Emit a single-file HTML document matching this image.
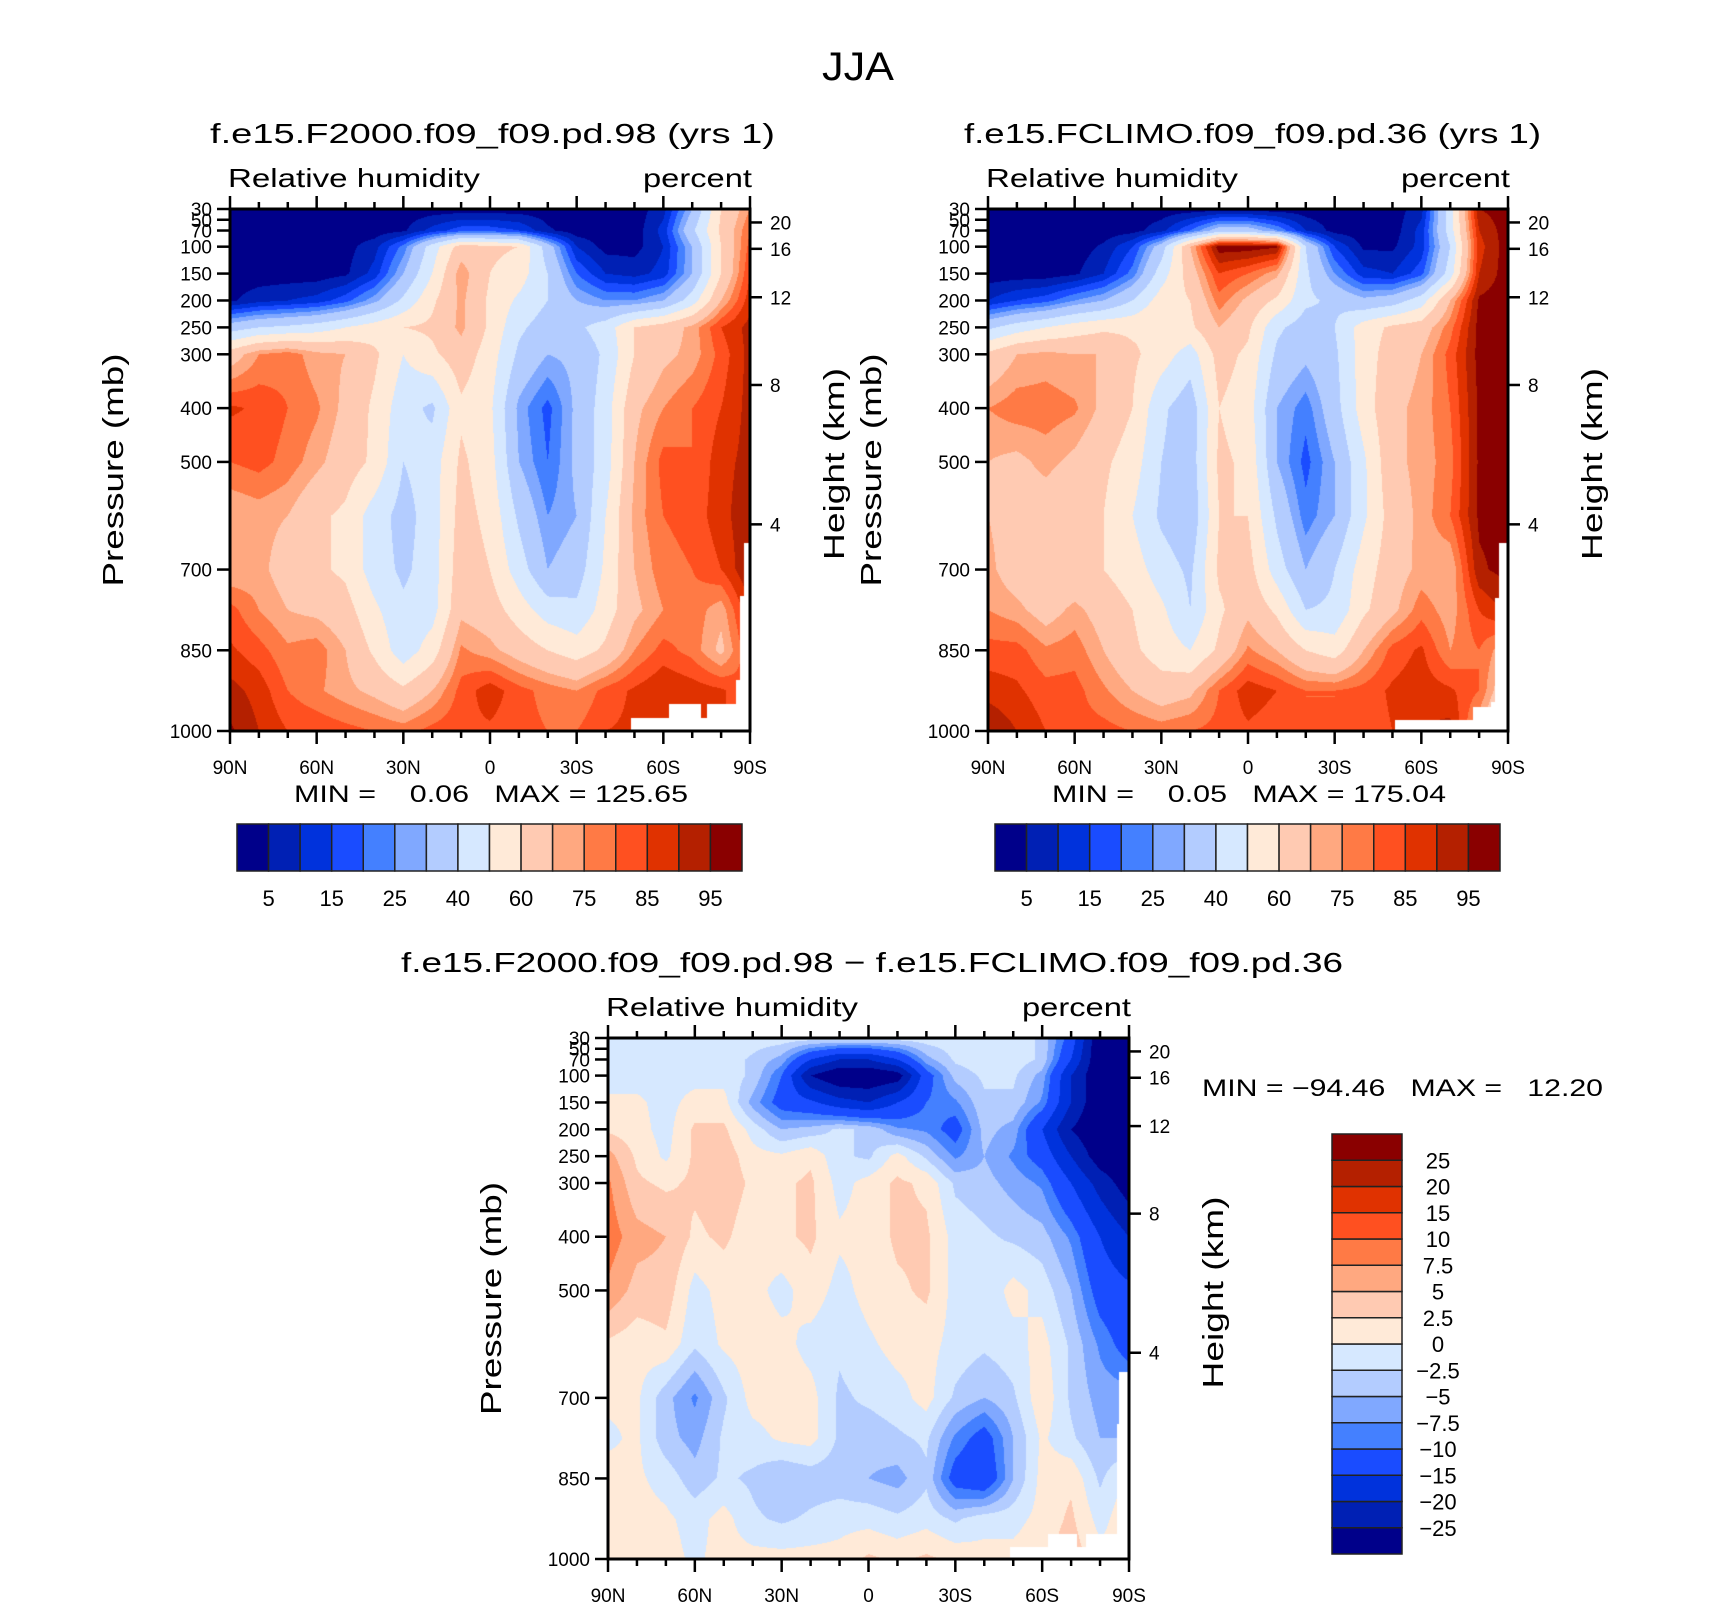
<!DOCTYPE html>
<html><head><meta charset="utf-8">
<style>
html,body{margin:0;padding:0;background:#fff;}
#root{position:relative;width:1710px;height:1606px;overflow:hidden;background:#fff;font-family:"Liberation Sans",sans-serif;}
canvas{position:absolute;}
svg{position:absolute;left:0;top:0;}
</style></head>
<body>
<div id="root">
<canvas id="c1" style="left:230px;top:209px" width="520" height="522"></canvas>
<canvas id="c2" style="left:988px;top:209px" width="520" height="522"></canvas>
<canvas id="c3" style="left:608px;top:1038px" width="521" height="521"></canvas>
<svg id="ov" width="1710" height="1606"></svg>
</div>
<script>
// ---- data ----
const lats = [90,80,70,60,50,40,30,20,10,0,-10,-20,-30,-40,-50,-60,-70,-80,-90];
const levs = [30,70,100,150,200,250,300,400,500,600,700,775,850,925,1000];
const rhBounds = [5,10,15,20,25,30,40,50,60,70,75,80,85,90,95];
const rhTickLabels = ["5","15","25","40","60","75","85","95"];
const diffBounds = [-25,-20,-15,-10,-7.5,-5,-2.5,0,2.5,5,7.5,10,15,20,25];
const diffTickLabels = ["−25","−20","−15","−10","−7.5","−5","−2.5","0","2.5","5","7.5","10","15","20","25"];
const palette = ["#00008a","#0020b4","#0032dc","#1a4cff","#4480ff","#80a8ff","#b3ccff","#d6e8ff","#ffead8","#ffcab2","#ffa880","#ff7a45","#ff5020","#e03200","#b42000","#8a0000"];

// Panel 1: f.e15.F2000 RH (rows = levs)
const rh1_p30  = [2,2,2,2,2,2,2,2,2,2,2,2,2,2,2,8,30,60,75];
const rh1_p70  = [2,2,2,2,2,2,4,12,18,18,15,6,2,2,2,12,38,62,80];
const rh1_p100 = [2,2,2,2,3,8,22,45,65,62,60,35,10,3,3,10,30,60,82];
const rh1_p150 = [2,2,2,2,4,12,30,50,74,60,55,40,20,10,8,12,30,60,85];
const rh1_p200 = [4,8,10,12,18,28,42,58,72,58,48,40,30,25,25,30,45,70,88];
const rh1_p250 = [35,40,42,45,50,55,60,62,72,58,42,35,38,45,60,65,72,85,92];
const rh1_p300 = [65,75,78,72,70,62,50,58,66,55,38,30,32,42,60,68,72,82,92];
const rh1_p400 = [86,84,80,76,68,58,44,38,58,52,28,18,32,45,68,75,80,85,92];
const rh1_p500 = [80,82,78,72,65,58,40,45,62,54,30,20,32,45,70,82,80,88,92];
const rh1_p600 = [70,72,70,62,58,45,36,45,64,57,38,25,30,50,72,80,82,88,94];
const rh1_p700 = [70,72,66,62,58,45,38,45,66,60,45,30,35,52,70,78,80,85,95];
const rh1_p775 = [82,75,70,68,64,52,42,46,68,65,55,45,42,55,68,75,78,72,90];
const rh1_p850 = [86,82,76,78,70,58,44,55,76,72,66,60,55,62,75,82,78,68,85];
const rh1_p925 = [92,88,80,76,72,68,62,70,82,88,82,78,75,82,86,90,88,86,80];
const rh1_p1000= [96,90,85,84,82,80,78,82,84,84,82,80,80,85,86,88,88,86,80];
const rh1 = [rh1_p30,rh1_p70,rh1_p100,rh1_p150,rh1_p200,rh1_p250,rh1_p300,rh1_p400,rh1_p500,rh1_p600,rh1_p700,rh1_p775,rh1_p850,rh1_p925,rh1_p1000];
const mask1Lat0 = [48.8,62,75,85,86.5,88];
const mask1Lat1 = [90,73,90,90,90,90];
const mask1P    = [975,950,950,905,750,650];

// Panel 2: f.e15.FCLIMO RH
const rh2_p30  = [2,2,2,2,2,2,2,2,2,2,2,2,2,2,2,8,45,95,98];
const rh2_p70  = [2,2,2,2,2,3,8,20,35,35,25,10,3,2,2,12,45,90,98];
const rh2_p100 = [2,2,2,2,6,15,35,70,98,98,96,40,15,4,4,12,40,88,98];
const rh2_p150 = [2,2,2,4,10,22,45,65,85,80,72,42,25,12,10,18,45,90,98];
const rh2_p200 = [10,15,18,25,30,40,55,60,78,68,58,42,38,32,35,45,70,96,98];
const rh2_p250 = [38,45,50,55,58,58,60,58,70,62,42,35,40,55,62,65,78,97,98];
const rh2_p300 = [62,70,72,70,70,62,55,45,64,58,38,32,38,55,65,70,82,97,98];
const rh2_p400 = [75,78,78,76,68,60,42,34,60,55,30,22,36,55,68,72,80,96,98];
const rh2_p500 = [70,68,72,68,62,55,40,34,62,58,30,18,30,48,68,72,78,96,97];
const rh2_p600 = [70,66,65,62,60,50,38,32,60,60,38,22,30,48,65,72,80,96,97];
const rh2_p700 = [72,65,62,62,60,55,45,38,62,64,45,30,40,55,66,72,70,94,97];
const rh2_p775 = [75,72,66,72,66,60,52,40,58,68,58,40,42,58,68,78,72,85,92];
const rh2_p850 = [82,82,76,78,70,62,55,50,62,76,70,60,55,70,82,86,75,80,70];
const rh2_p925 = [88,86,82,82,76,70,65,68,80,88,85,80,80,82,86,88,86,80,60];
const rh2_p1000= [95,90,85,82,82,80,78,80,82,84,82,80,80,82,85,90,92,70,50];
const rh2 = [rh2_p30,rh2_p70,rh2_p100,rh2_p150,rh2_p200,rh2_p250,rh2_p300,rh2_p400,rh2_p500,rh2_p600,rh2_p700,rh2_p775,rh2_p850,rh2_p925,rh2_p1000];
const mask2Lat0 = [51,78,84,85.6,87];
const mask2Lat1 = [90,90,90,90,90];
const mask2P    = [979,955,946,753,650];

// Panel 3: difference
const d_p30  = [-1,-1,-1,-1,-1,-1,-1,-1,-1,-1,-1,-1,-1,-1,-1,-3,-12,-30,-30];
const d_p70  = [-1,-1,-1,-1,-1,-3,-6,-15,-20,-20,-15,-6,-2,-1,-1,-3,-15,-30,-30];
const d_p100 = [-1,-1,-1,-1,-1,-3,-10,-25,-30,-30,-28,-12,-4,-2,-2,-6,-20,-30,-30];
const d_p150 = [0.5,0.5,-1,1,1,-6,-12,-14,-18,-20,-15,-10,-8,-3,-3,-8,-20,-30,-30];
const d_p200 = [2,1,-1,3,3,-1,-5,-4,-2,-3,-7,-8,-12,-4,-6,-15,-25,-30,-30];
const d_p250 = [6,2,-0.5,3,4,1,0.5,2,-2,-3,1,-3,-8,-5,-8,-12,-20,-28,-30];
const d_p300 = [8,3,2,3,4,2,2,3,-1,1,3,2,-3,-4,-6,-8,-15,-22,-28];
const d_p400 = [9,6,5,2,3,1,2,3,0.5,1,3,3,-1,-2,-3,-4,-8,-15,-20];
const d_p500 = [7,4,4,-1,1,1,-1,1.5,-1,1,2,3,-1,-2,1,-1,-5,-12,-14];
const d_p600 = [2,1,2,-2,0.5,1.5,1,-1,-2,-0.5,1,1,-1,-2,-1,1,-3,-8,-12];
const d_p700 = [0.5,0.5,-4,-8,-3,1,1.5,1,-3,-2,-1,1,-3,-5,-3,2,-3,-6,-6];
const d_p775 = [-0.5,0.5,-4,-6,-2,-1,0.5,1,-3,-4,-3,-2,-8,-12,-5,0.5,-2,-5,-5];
const d_p850 = [1,0.5,-1,-4,-2,-3,-5,-4,-4,-5,-6,-3,-12,-14,-5,1,2,-3,1];
const d_p925 = [1,1,0.5,-1,1,-2,-3,-2,-1,-1,-2,-1,-3,-1,-1,1,3,-1,2];
const d_p1000= [0.5,1,1,-0.5,1,1,1,1,1,3,2,3,2,1,1,2,4,1,1];
const dd = [d_p30,d_p70,d_p100,d_p150,d_p200,d_p250,d_p300,d_p400,d_p500,d_p600,d_p700,d_p775,d_p850,d_p925,d_p1000];
const mask3Lat0 = [49,62,75,85.7,86.5];
const mask3Lat1 = [90,72,90,90,90];
const mask3P    = [977,953,953,748,652];

// ---- rendering ----
function interp(grid, lat, p){
  let fx = (90-lat)/10; let i = Math.min(Math.floor(fx), lats.length-2); let tx = fx-i;
  let j = 0; while(j < levs.length-2 && p > levs[j+1]) j++;
  let ty = (p-levs[j])/(levs[j+1]-levs[j]); ty = Math.max(0,Math.min(1,ty));
  const a = grid[j][i], b = grid[j][i+1], c = grid[j+1][i], d = grid[j+1][i+1];
  return (a*(1-tx)+b*tx)*(1-ty) + (c*(1-tx)+d*tx)*ty;
}
function classOf(v, bounds){ let k=0; while(k<bounds.length && v>=bounds[k]) k++; return k; }
function hex(h){ return [parseInt(h.substr(1,2),16),parseInt(h.substr(3,2),16),parseInt(h.substr(5,2),16)]; }
const rgb = palette.map(hex);
function drawField(id, grid, bounds, m0, m1, mp){
  const cv = document.getElementById(id); const ctx = cv.getContext('2d');
  const w = cv.width, h = cv.height; const img = ctx.createImageData(w,h);
  for(let py=0; py<h; py++){
    const p = 30 + 970*(py+0.5)/h;
    for(let px=0; px<w; px++){
      const lat = 90 - 180*(px+0.5)/w; const sl = -lat;
      let masked = false;
      for(let k=0;k<m0.length;k++){ if(sl>=m0[k] && sl<=m1[k] && p>=mp[k]) masked = true; }
      const o = (py*w+px)*4;
      if(masked){ img.data[o]=255; img.data[o+1]=255; img.data[o+2]=255; img.data[o+3]=255; continue; }
      const c = rgb[classOf(interp(grid,lat,p),bounds)];
      img.data[o]=c[0]; img.data[o+1]=c[1]; img.data[o+2]=c[2]; img.data[o+3]=255;
    }
  }
  ctx.putImageData(img,0,0);
}
drawField('c1', rh1, rhBounds, mask1Lat0, mask1Lat1, mask1P);
drawField('c2', rh2, rhBounds, mask2Lat0, mask2Lat1, mask2P);
drawField('c3', dd, diffBounds, mask3Lat0, mask3Lat1, mask3P);

// ---- axes / text ----
const NS = "http://www.w3.org/2000/svg";
const svg = document.getElementById('ov');
function el(tag, attrs, parent){ const e = document.createElementNS(NS, tag); for(const k in attrs) e.setAttribute(k, attrs[k]); (parent||svg).appendChild(e); return e; }
function txt(s, x, y, size, anchor, name, len, rot){
  const t = el('text', {x:x, y:y, 'font-size':size, 'text-anchor':anchor||'start', 'font-family':'"Liberation Sans", sans-serif', fill:'#000'});
  t.setAttribute('style','white-space:pre');
  if(len){ t.setAttribute('textLength', len); t.setAttribute('lengthAdjust','spacingAndGlyphs'); }
  if(rot) t.setAttribute('transform', 'rotate(-90 '+x+' '+y+')');
  t.textContent = s;
  
  
  return t;
}
const pLabels = [30,50,70,100,150,200,250,300,400,500,700,850,1000];
const kmLabels = [20,16,12,8,4];
const kmPress = [55,104,194,357,616];
const xLabels = ["90N","60N","30N","0","30S","60S","90S"];

function panelAxes(x0,y0,w,h,pre,titleStr,titleX0,titleX1){
  const g = el('g', {});
  
  
  const yp = p => y0 + (p-30)/970*h;
  const xl = lat => x0 + (90-lat)/180*w;
  el('rect', {x:x0, y:y0, width:w, height:h, fill:'none', stroke:'#000', 'stroke-width':3}, g);
  for(let lat=90; lat>=-90; lat-=10){
    const major = (lat%30===0); const L = major?13:7; const x = xl(lat);
    el('line', {x1:x, x2:x, y1:y0, y2:y0-L, stroke:'#000', 'stroke-width':2.5}, g);
    el('line', {x1:x, x2:x, y1:y0+h, y2:y0+h+L, stroke:'#000', 'stroke-width':2.5}, g);
  }
  xLabels.forEach((s,i)=>{ txt(s, x0+i*w/6, y0+h+43, 19, 'middle', pre+'-x-tick-'+s); });
  pLabels.forEach(p=>{
    el('line', {x1:x0-13, x2:x0, y1:yp(p), y2:yp(p), stroke:'#000', 'stroke-width':2.5}, g);
    txt(String(p), x0-18, yp(p)+7, 19, 'end', pre+'-p-tick-'+p);
  });
  kmLabels.forEach((k,i)=>{
    const y = yp(kmPress[i]);
    el('line', {x1:x0+w, x2:x0+w+12, y1:y, y2:y, stroke:'#000', 'stroke-width':2.5}, g);
    txt(String(k), x0+w+20, y+7, 19, 'start', pre+'-km-tick-'+k);
  });
  txt("Pressure (mb)", x0-107, y0+h*0.5, 29, 'middle', pre+'-y-axis-title', 233, true);
  txt("Height (km)", x0+w+94, y0+h*0.5-6, 29, 'middle', pre+'-right-axis-title', 192, true);
  txt("Relative humidity", x0-2, y0-22, 26, 'start', pre+'-variable-label', 252);
  txt("percent", x0+w+2, y0-22, 26, 'end', pre+'-units-label', 109);
  txt(titleStr, (titleX0+titleX1)/2, y0-66, 28, 'middle', pre+'-title', titleX1-titleX0);
}
txt("JJA", 858, 80, 40, 'middle', 'figure-title', 72);
panelAxes(230,209,520,522,'p1',"f.e15.F2000.f09_f09.pd.98 (yrs 1)",210,775);
panelAxes(988,209,520,522,'p2',"f.e15.FCLIMO.f09_f09.pd.36 (yrs 1)",964,1541);
panelAxes(608,1038,521,521,'p3',"f.e15.F2000.f09_f09.pd.98 − f.e15.FCLIMO.f09_f09.pd.36",401,1343);
txt("MIN =    0.06   MAX = 125.65", 294, 802, 24, 'start', 'p1-min-max', 394);
txt("MIN =    0.05   MAX = 175.04", 1052, 802, 24, 'start', 'p2-min-max', 394);
txt("MIN = −94.46   MAX =   12.20", 1202, 1096, 24, 'start', 'p3-min-max', 401);

function hbar(x0,y0,w,h,pre){
  const n = palette.length, bw = w/n;
  palette.forEach((c,i)=>{
    const r = el('rect', {x:x0+i*bw, y:y0, width:bw, height:h, fill:c, stroke:'#222', 'stroke-width':1.5});
    
    
  });
  rhTickLabels.forEach((s,i)=>{ txt(s, x0+(2*i+1)*bw, y0+h+35, 22, 'middle', pre+'-colorbar-label-'+s); });
}
hbar(237,824,505,47,'p1');
hbar(995,824,505,47,'p2');
(function(){
  const x0=1332, y0=1134, w=70, h=420, n=palette.length, bh=h/n;
  for(let i=0;i<n;i++){
    const r = el('rect', {x:x0, y:y0+(n-1-i)*bh, width:w, height:bh, fill:palette[i], stroke:'#222', 'stroke-width':1.5});
    
    
  }
  diffTickLabels.forEach((s,i)=>{ txt(s, x0+w+36, y0+h-(i+1)*bh+8, 22, 'middle', 'p3-colorbar-label'); });
})();
</script>
</body></html>
